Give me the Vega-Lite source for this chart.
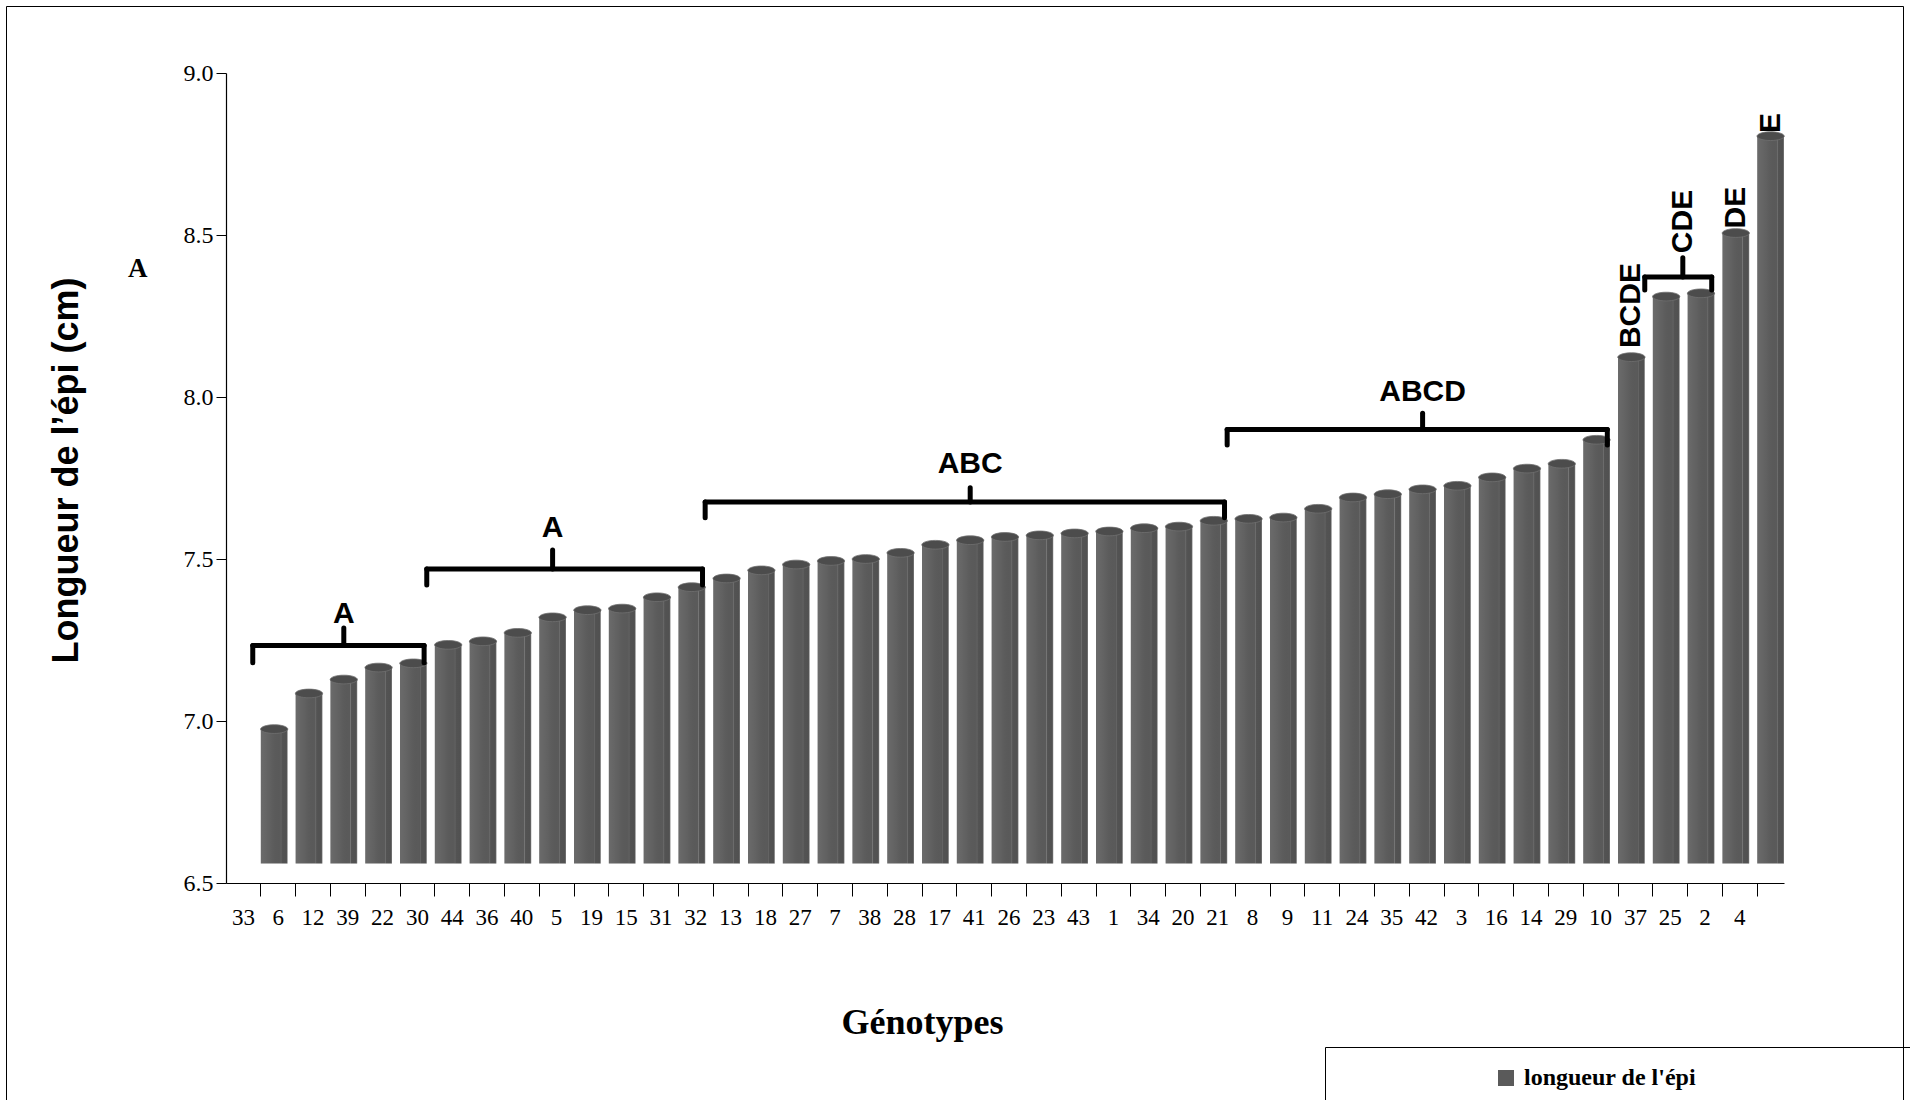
{
  "$schema": "https://vega.github.io/schema/vega-lite/v6.json",
  "width": 1558,
  "height": 810,
  "autosize": {"type": "none"},
  "padding": {"left": 226, "top": 73, "right": 126, "bottom": 217},
  "background": "white",
  "config": {
    "view": {"stroke": null},
    "axis": {"grid": false, "domainColor": "black", "tickColor": "black", "labelColor": "black", "titleColor": "black"}
  },
  "datasets": {
    "bars": [
      {"genotype": "33", "longueur": 6.975},
      {"genotype": "6", "longueur": 7.085},
      {"genotype": "12", "longueur": 7.128},
      {"genotype": "39", "longueur": 7.165},
      {"genotype": "22", "longueur": 7.178},
      {"genotype": "30", "longueur": 7.235},
      {"genotype": "44", "longueur": 7.246},
      {"genotype": "36", "longueur": 7.272},
      {"genotype": "40", "longueur": 7.32},
      {"genotype": "5", "longueur": 7.342},
      {"genotype": "19", "longueur": 7.347},
      {"genotype": "15", "longueur": 7.382},
      {"genotype": "31", "longueur": 7.413},
      {"genotype": "32", "longueur": 7.44},
      {"genotype": "13", "longueur": 7.465},
      {"genotype": "18", "longueur": 7.483},
      {"genotype": "27", "longueur": 7.494},
      {"genotype": "7", "longueur": 7.5},
      {"genotype": "38", "longueur": 7.519},
      {"genotype": "28", "longueur": 7.544},
      {"genotype": "17", "longueur": 7.558},
      {"genotype": "41", "longueur": 7.568},
      {"genotype": "26", "longueur": 7.573},
      {"genotype": "23", "longueur": 7.579},
      {"genotype": "43", "longueur": 7.585},
      {"genotype": "1", "longueur": 7.595},
      {"genotype": "34", "longueur": 7.6},
      {"genotype": "20", "longueur": 7.618},
      {"genotype": "21", "longueur": 7.624},
      {"genotype": "8", "longueur": 7.628},
      {"genotype": "9", "longueur": 7.655},
      {"genotype": "11", "longueur": 7.69},
      {"genotype": "24", "longueur": 7.7},
      {"genotype": "35", "longueur": 7.715},
      {"genotype": "42", "longueur": 7.726},
      {"genotype": "3", "longueur": 7.752},
      {"genotype": "16", "longueur": 7.779},
      {"genotype": "14", "longueur": 7.794},
      {"genotype": "29", "longueur": 7.868},
      {"genotype": "10", "longueur": 8.123},
      {"genotype": "37", "longueur": 8.31},
      {"genotype": "25", "longueur": 8.32},
      {"genotype": "2", "longueur": 8.506},
      {"genotype": "4", "longueur": 8.805}
    ],
    "braces": [
      {"groupe": "A", "first": "33", "last": "22", "lvl": 7.233, "lo": 7.18},
      {"groupe": "A", "first": "30", "last": "31", "lvl": 7.469, "lo": 7.42},
      {"groupe": "ABC", "first": "32", "last": "20", "lvl": 7.676, "lo": 7.627},
      {"groupe": "ABCD", "first": "21", "last": "29", "lvl": 7.9, "lo": 7.852},
      {"groupe": "CDE", "first": "37", "last": "25", "lvl": 8.37, "lo": 8.33}
    ],
    "tips": [
      {"groupe": "A", "mid": "12", "lvl": 7.233, "hi": 7.287, "tv": 7.33},
      {"groupe": "A", "mid": "40", "lvl": 7.469, "hi": 7.528, "tv": 7.596},
      {"groupe": "ABC", "mid": "17", "lvl": 7.676, "hi": 7.72, "tv": 7.793},
      {"groupe": "ABCD", "mid": "35", "lvl": 7.9, "hi": 7.95, "tv": 8.015}
    ],
    "tags": [
      {"groupe": "BCDE", "at": "10", "tv": 8.151},
      {"groupe": "DE", "at": "2", "tv": 8.52},
      {"groupe": "E", "at": "4", "tv": 8.815}
    ],
    "cde": [
      {"groupe": "CDE", "at": "37", "lvl": 8.37, "hi": 8.43, "tv": 8.444}
    ]
  },
  "layer": [
    {
      "data": {"name": "bars"},
      "mark": {"type": "bar"},
      "encoding": {
        "x": {
          "field": "genotype", "type": "nominal", "sort": null,
          "scale": {
            "domain": ["33","6","12","39","22","30","44","36","40","5","19","15","31","32","13","18","27","7","38","28","17","41","26","23","43","1","34","20","21","8","9","11","24","35","42","3","16","14","29","10","37","25","2","4"],
            "paddingInner": 0.23, "paddingOuter": 0.5, "align": 1
          },
          "axis": {
            "title": "Génotypes", "bandPosition": 0, "labelOffset": -30.8, "tickSize": 13,
            "labelPadding": 10, "labelAngle": 0, "labelFont": "Liberation Serif", "labelFontSize": 23,
            "titleFont": "Liberation Serif", "titleFontSize": 36, "titleFontWeight": "bold",
            "titleX": 696, "titleY": 150, "titleAlign": "center", "titleBaseline": "alphabetic",
            "domainWidth": 1.2, "tickWidth": 1
          }
        },
        "y": {
          "field": "longueur", "type": "quantitative",
          "scale": {"domain": [6.5, 9], "zero": false, "nice": false},
          "axis": {
            "title": "Longueur de l’épi (cm)", "values": [6.5, 7, 7.5, 8, 8.5, 9], "format": ".1f",
            "tickSize": 10, "labelPadding": 3, "labelFont": "Liberation Serif", "labelFontSize": 24,
            "titleFont": "Liberation Sans Narrow, Liberation Sans, sans-serif", "titleFontSize": 36, "titleFontWeight": "bold",
            "titleX": -160, "titleY": 397, "titleAlign": "center", "titleBaseline": "middle", "titleAngle": 270,
            "domainWidth": 1.2
          }
        },
        "y2": {"datum": 6.56},
        "color": {
          "datum": "longueur de l'épi",
          "scale": {"domain": ["longueur de l'épi", " "], "range": ["#5a5a5a", "rgba(0,0,0,0)"]},
          "legend": {
            "title": null, "orient": "none", "legendX": 1099, "legendY": 974, "direction": "horizontal",
            "gridAlign": "none",
            "symbolType": "square", "symbolSize": 256, "symbolStrokeWidth": 0,
            "labelFont": "Liberation Serif", "labelFontSize": 24, "labelFontWeight": "bold", "labelColor": "black",
            "labelLimit": 0, "columnPadding": 16,
            "padding": 19, "strokeColor": "black", "symbolOffset": 150, "labelOffset": 6
          }
        }
      }
    },
    {
      "data": {"name": "bars"},
      "mark": {
        "type": "bar",
        "fill": {
          "gradient": "linear", "x1": 0, "x2": 1, "y1": 0, "y2": 0,
          "stops": [
            {"offset": 0, "color": "rgba(255,255,255,0.10)"},
            {"offset": 0.35, "color": "rgba(255,255,255,0.04)"},
            {"offset": 0.72, "color": "rgba(0,0,0,0.0)"},
            {"offset": 0.75, "color": "rgba(255,255,255,0.16)"},
            {"offset": 0.79, "color": "rgba(0,0,0,0.08)"},
            {"offset": 0.95, "color": "rgba(0,0,0,0.1)"},
            {"offset": 1, "color": "rgba(255,255,255,0.35)"}
          ]
        }
      },
      "encoding": {
        "x": {"field": "genotype", "type": "nominal", "sort": null},
        "y": {"field": "longueur", "type": "quantitative"},
        "y2": {"datum": 6.56}
      }
    },
    {
      "data": {"name": "bars"},
      "mark": {
        "type": "point", "filled": true, "opacity": 1,
        "shape": "M -1 0 A 1 0.32 0 1 0 1 0 A 1 0.32 0 1 0 -1 0 Z",
        "size": 740, "fill": "#4c4c4c", "stroke": "#707070", "strokeWidth": 0.8
      },
      "encoding": {
        "x": {"field": "genotype", "type": "nominal", "sort": null},
        "y": {"field": "longueur", "type": "quantitative"}
      }
    },
    {
      "data": {"name": "braces"},
      "mark": {"type": "rule", "strokeWidth": 5, "strokeCap": "round", "color": "black"},
      "encoding": {
        "x": {"field": "first", "type": "nominal", "sort": null, "bandPosition": -0.3},
        "x2": {"field": "last", "bandPosition": 0.9},
        "y": {"field": "lvl", "type": "quantitative"}
      }
    },
    {
      "data": {"name": "braces"},
      "mark": {"type": "rule", "strokeWidth": 5, "strokeCap": "round", "color": "black"},
      "encoding": {
        "x": {"field": "first", "type": "nominal", "sort": null, "bandPosition": -0.3},
        "y": {"field": "lvl", "type": "quantitative"},
        "y2": {"field": "lo"}
      }
    },
    {
      "data": {"name": "braces"},
      "mark": {"type": "rule", "strokeWidth": 5, "strokeCap": "round", "color": "black"},
      "encoding": {
        "x": {"field": "last", "type": "nominal", "sort": null, "bandPosition": 0.9},
        "y": {"field": "lvl", "type": "quantitative"},
        "y2": {"field": "lo"}
      }
    },
    {
      "data": {"name": "tips"},
      "mark": {"type": "rule", "strokeWidth": 5, "strokeCap": "round", "color": "black"},
      "encoding": {
        "x": {"field": "mid", "type": "nominal", "sort": null, "bandPosition": 0.5},
        "y": {"field": "lvl", "type": "quantitative"},
        "y2": {"field": "hi"}
      }
    },
    {
      "data": {"name": "tips"},
      "mark": {"type": "text", "font": "Liberation Sans", "fontWeight": "bold", "fontSize": 30, "color": "black", "baseline": "middle", "align": "center"},
      "encoding": {
        "x": {"field": "mid", "type": "nominal", "sort": null, "bandPosition": 0.5},
        "y": {"field": "tv", "type": "quantitative"},
        "text": {"field": "groupe"}
      }
    },
    {
      "data": {"name": "tags"},
      "mark": {"type": "text", "font": "Liberation Sans", "fontWeight": "bold", "fontSize": 30, "color": "black", "baseline": "middle", "align": "left", "angle": 270},
      "encoding": {
        "x": {"field": "at", "type": "nominal", "sort": null, "bandPosition": 0.5},
        "y": {"field": "tv", "type": "quantitative"},
        "text": {"field": "groupe"}
      }
    },
    {
      "data": {"name": "cde"},
      "mark": {"type": "rule", "strokeWidth": 5, "strokeCap": "round", "color": "black"},
      "encoding": {
        "x": {"field": "at", "type": "nominal", "sort": null, "bandPosition": 1.12},
        "y": {"field": "lvl", "type": "quantitative"},
        "y2": {"field": "hi"}
      }
    },
    {
      "data": {"name": "cde"},
      "mark": {"type": "text", "font": "Liberation Sans", "fontWeight": "bold", "fontSize": 30, "color": "black", "baseline": "middle", "align": "left", "angle": 270},
      "encoding": {
        "x": {"field": "at", "type": "nominal", "sort": null, "bandPosition": 1.12},
        "y": {"field": "tv", "type": "quantitative"},
        "text": {"field": "groupe"}
      }
    },
    {
      "data": {"values": [{"marque": "A"}]},
      "mark": {"type": "text", "font": "Liberation Serif", "fontWeight": "bold", "fontSize": 27, "color": "black", "baseline": "middle", "align": "center", "dx": -123},
      "encoding": {
        "x": {"datum": "33", "bandPosition": 0},
        "y": {"datum": 8.395},
        "text": {"field": "marque"},
        "opacity": {
          "datum": "cadre",
          "scale": {"range": [1]},
          "legend": {
            "title": null, "orient": "none", "legendX": -220, "legendY": -67,
            "padding": 948, "strokeColor": "black", "symbolSize": 0, "symbolOpacity": 0,
            "symbolStrokeWidth": 0, "labelExpr": "''", "labelOffset": 0, "labelFontSize": 1
          }
        }
      }
    },
    {
      "data": {"values": [{"vide": ""}]},
      "mark": {"type": "text"},
      "encoding": {
        "x": {"datum": "4"},
        "y": {"datum": 8.0},
        "text": {"field": "vide"},
        "color": {"datum": " "}
      }
    }
  ]
}
